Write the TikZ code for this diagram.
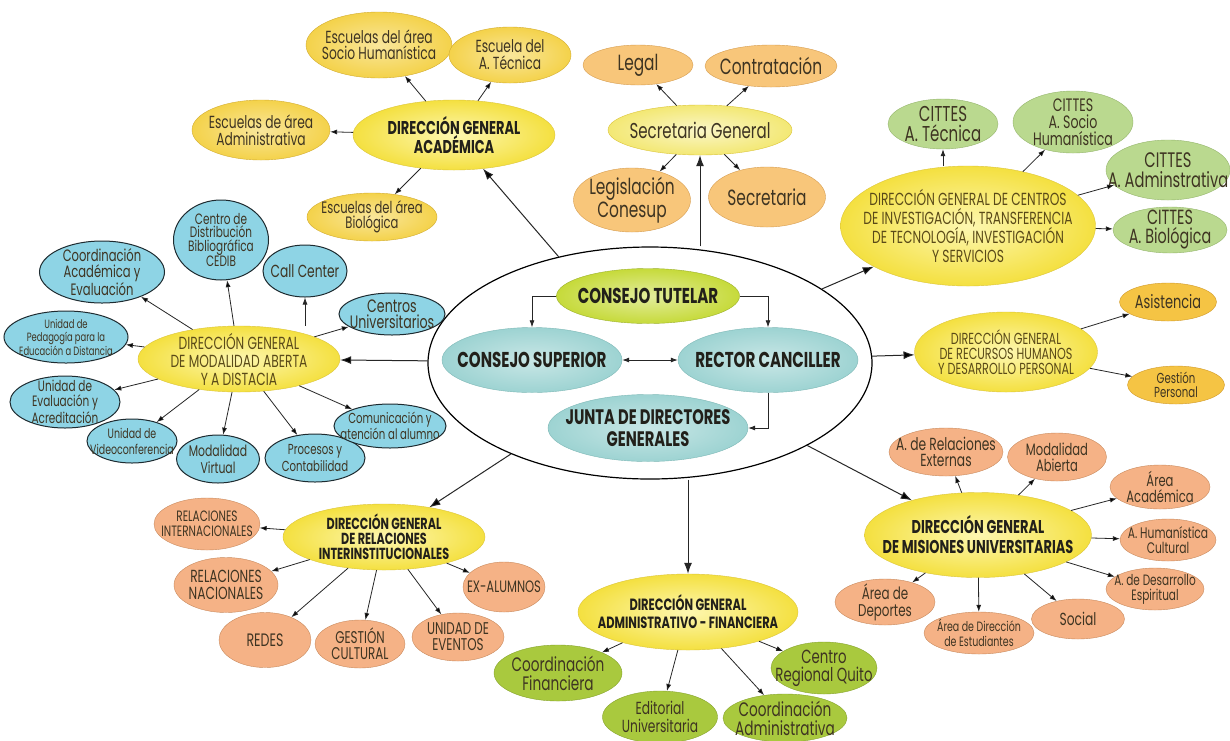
\documentclass[tikz,border=0pt]{standalone}
\usepackage{fontspec}
\setmainfont{Poppins}[FakeStretch=0.7]
\usetikzlibrary{shapes.geometric,arrows.meta}

\newcommand{\fsz}[2]{\fontsize{#1}{#2}\selectfont}

\definecolor{dgyellow}{HTML}{F4E040}
\definecolor{dglight}{HTML}{FDF7B0}
\definecolor{dgline}{HTML}{DCC53A}
\definecolor{sgyellow}{HTML}{F3E874}
\definecolor{gold}{HTML}{F4D24A}
\definecolor{goldline}{HTML}{D2AC30}
\definecolor{apricot}{HTML}{F8C67A}
\definecolor{apricotline}{HTML}{D79E50}
\definecolor{sage}{HTML}{BAD98F}
\definecolor{sageline}{HTML}{94B56B}
\definecolor{amber}{HTML}{F5C444}
\definecolor{amberline}{HTML}{D19A2A}
\definecolor{salmon}{HTML}{F5B286}
\definecolor{salmonline}{HTML}{C98A5D}
\definecolor{lime}{HTML}{A9C93E}
\definecolor{limeline}{HTML}{86A32C}
\definecolor{sky}{HTML}{8ED4E5}
\definecolor{skyline}{HTML}{1E2B30}
\definecolor{tutelar}{HTML}{C6DA3A}
\definecolor{tutelarline}{HTML}{9DB22C}
\definecolor{aqua}{HTML}{9DD3D2}
\definecolor{aqualine}{HTML}{7DB8B6}
\definecolor{darktext}{HTML}{22201A}
\definecolor{kidtext}{HTML}{3E3422}
\definecolor{softtext}{HTML}{5A4A18}

\tikzset{
  blob/.style 2 args={ellipse, minimum width=#1, minimum height=#2, inner sep=0pt},
  dg/.style={draw=dgline, inner color=dglight, outer color=dgyellow},
  sgnode/.style={draw=dgline, inner color=sgyellow!40!white, outer color=sgyellow},
  tutelarnode/.style={draw=tutelarline, inner color=tutelar!50!white, outer color=tutelar},
  aquanode/.style={draw=aqualine, inner color=aqua!55!white, outer color=aqua},
  goldnode/.style={draw=goldline, inner color=gold!55!white, outer color=gold},
  apricotnode/.style={draw=apricotline, fill=apricot},
  sagenode/.style={draw=sageline, fill=sage},
  ambernode/.style={draw=amberline, fill=amber},
  salmonnode/.style={draw=salmonline, fill=salmon},
  limenode/.style={draw=limeline, fill=lime},
  skynode/.style={draw=skyline, line width=1pt, fill=sky},
  kt/.style 2 args={align=center, inner sep=0pt, text=kidtext, font=\fsz{#1}{#2}},
  bt/.style 2 args={align=center, inner sep=0pt, text=darktext, font=\bfseries\fsz{#1}{#2}},
  st/.style 2 args={align=center, inner sep=0pt, text=softtext, font=\fsz{#1}{#2}},
  arr/.style={->, >={Latex[length=7pt,width=5pt]}, line width=0.8pt, draw=black!85},
  bigarr/.style={->, >={Latex[length=11pt,width=8pt]}, line width=1pt, draw=black!85},
}

\begin{document}
\begin{tikzpicture}[x=1pt, y=-1pt]

	\path[use as bounding box, fill=white] (0, 0) rectangle (1230, 740);

	\node[draw=black, line width=1.2pt, fill=white, blob={444}{232}] (big) at (650, 363) {};
	\node[tutelarnode, blob={183}{55}, label={[bt={21.5}{21}]center:CONSEJO TUTELAR}] (ct) at (648, 296) {};
	\node[aquanode, blob={180}{65}, label={[bt={21.5}{21}]center:CONSEJO SUPERIOR}] (cs) at (532, 360) {};
	\node[aquanode, blob={180}{65}, label={[bt={21.5}{21}]center:RECTOR CANCILLER}] (rc) at (768, 360) {};
	\node[aquanode, blob={200}{67}, label={[bt={21}{22}]center:JUNTA DE DIRECTORES\\GENERALES}] (junta) at (648, 428) {};

	\node[dg, blob={202}{70}, label={[bt={18.5}{17}]center:DIRECCIÓN GENERAL\\ACADÉMICA}] (dga) at (454, 135) {};
	\node[sgnode, blob={184}{50}, label={[kt={21.5}{20}]center:Secretaria General}] (sg) at (700, 130) {};
	\node[dg, blob={255}{120}, label={[st={17.5}{19}]center:DIRECCIÓN GENERAL DE CENTROS\\DE INVESTIGACIÓN, TRANSFERENCIA\\DE TECNOLOGÍA, INVESTIGACIÓN\\Y SERVICIOS}] (cit) at (968, 226) {};
	\node[dg, blob={183}{80}, label={[st={16}{15}]center:DIRECCIÓN GENERAL\\DE RECURSOS HUMANOS\\Y DESARROLLO PERSONAL}] (rrhh) at (1006, 352) {};
	\node[dg, blob={227}{85}, label={[bt={18.5}{20}]center:DIRECCIÓN GENERAL\\DE MISIONES UNIVERSITARIAS}] (mis) at (978, 535) {};
	\node[dg, blob={220}{76}, label={[bt={16.3}{18}]center:DIRECCIÓN GENERAL\\ADMINISTRATIVO - FINANCIERA}] (fin) at (688, 612) {};
	\node[dg, blob={202}{66}, label={[bt={16}{15}]center:DIRECCIÓN GENERAL\\DE RELACIONES\\INTERINSTITUCIONALES}] (rel) at (384, 537) {};
	\node[dg, blob={202}{66}, label={[st={17.5}{18}]center:DIRECCIÓN GENERAL\\DE MODALIDAD ABERTA\\Y A DISTACIA}] (mod) at (239, 359) {};

	\node[goldnode, blob={146}{66}, label={[kt={17.5}{16}]center:Escuelas del área\\Socio Humanística}] (soc) at (379, 45) {};
	\node[goldnode, blob={122}{56}, label={[kt={17.5}{17}]center:Escuela del\\A. Técnica}] (tec) at (510, 55) {};
	\node[goldnode, blob={138}{60}, label={[kt={17.5}{17}]center:Escuelas de área\\Administrativa}] (adm) at (261, 130) {};
	\node[goldnode, blob={130}{48}, label={[kt={16.5}{15}]center:Escuelas del área\\Biológica}] (bio) at (372, 217) {};

	\node[apricotnode, blob={110}{40}, label={[kt={22}{21}]center:Legal}] (legal) at (638, 65) {};
	\node[apricotnode, blob={132}{42}, label={[kt={22}{21}]center:Contratación}] (contr) at (771, 66) {};
	\node[apricotnode, blob={117}{64}, label={[kt={22}{21}]center:Legislación\\Conesup}] (legis) at (632, 200) {};
	\node[apricotnode, blob={117}{60}, label={[kt={22}{21}]center:Secretaria}] (secr) at (767, 197) {};

	\node[sagenode, blob={110}{50}, label={[kt={21.5}{20}]center:CITTES\\A. Técnica}] (cit1) at (943, 124) {};
	\node[sagenode, blob={120}{62}, label={[kt={18}{17}]center:CITTES\\A. Socio\\Humanística}] (cit2) at (1073, 122) {};
	\node[sagenode, blob={124}{60}, label={[kt={21}{20}]center:CITTES\\A. Adminstrativa}] (cit3) at (1168, 170) {};
	\node[sagenode, blob={114}{46}, label={[kt={20.5}{19}]center:CITTES\\A. Biológica}] (cit4) at (1170, 230) {};

	\node[ambernode, blob={97}{38}, label={[kt={18.5}{18}]center:Asistencia}] (asis) at (1168, 302) {};
	\node[ambernode, blob={97}{38}, label={[kt={14.5}{14}]center:Gestión\\Personal}] (gest) at (1176, 385) {};

	\node[salmonnode, blob={114}{48}, label={[kt={17.5}{16}]center:A. de Relaciones\\Externas}] (ext) at (946, 452) {};
	\node[salmonnode, blob={99}{48}, label={[kt={16.5}{16}]center:Modalidad\\Abierta}] (mab) at (1057, 457) {};
	\node[salmonnode, blob={100}{44}, label={[kt={16.5}{16}]center:Área\\Académica}] (aca) at (1160, 487) {};
	\node[salmonnode, blob={96}{42}, label={[kt={15.3}{15}]center:A. Humanística\\Cultural}] (hum) at (1168, 540) {};
	\node[salmonnode, blob={98}{42}, label={[kt={15}{15}]center:A. de Desarrollo\\Espiritual}] (esp) at (1155, 589) {};
	\node[salmonnode, blob={100}{46}, label={[kt={17}{17}]center:Área de\\Deportes}] (dep) at (885, 602) {};
	\node[salmonnode, blob={110}{42}, label={[kt={13.5}{14.5}]center:Área de Dirección\\de Estudiantes}] (est) at (979, 633) {};
	\node[salmonnode, blob={93}{40}, label={[kt={17.5}{17}]center:Social}] (soc2) at (1078, 619) {};

	\node[limenode, blob={128}{56}, label={[kt={19.5}{19}]center:Coordinación\\Financiera}] (cfin) at (558, 673) {};
	\node[limenode, blob={115}{52}, label={[kt={17.5}{18}]center:Editorial\\Universitaria}] (edit) at (660, 717) {};
	\node[limenode, blob={124}{48}, label={[kt={19.5}{19}]center:Coordinación\\Administrativa}] (cadm) at (785, 718) {};
	\node[limenode, blob={106}{52}, label={[kt={19}{18}]center:Centro\\Regional Quito}] (crq) at (824, 668) {};

	\node[salmonnode, blob={106}{52}, label={[kt={15}{15}]center:RELACIONES\\INTERNACIONALES}] (rint) at (207, 524) {};
	\node[salmonnode, blob={104}{55}, label={[kt={17.5}{17}]center:RELACIONES\\NACIONALES}] (rnac) at (226, 585) {};
	\node[salmonnode, blob={92}{55}, label={[kt={18}{16}]center:REDES}] (redes) at (265, 640) {};
	\node[salmonnode, blob={90}{48}, label={[kt={17}{16}]center:GESTIÓN\\CULTURAL}] (gcult) at (360, 644) {};
	\node[salmonnode, blob={92}{48}, label={[kt={17}{16}]center:UNIDAD DE\\EVENTOS}] (uev) at (458, 637) {};
	\node[salmonnode, blob={82}{50}, label={[kt={16.5}{15}]center:EX-ALUMNOS}] (exal) at (504, 587) {};

	\node[skynode, blob={125}{62}, label={[kt={16.5}{16.5}]center:Coordinación\\Académica y\\Evaluación}] (coord) at (102, 272) {};
	\node[skynode, blob={95}{80}, label={[kt={15}{13.5}]center:Centro de\\Distribución\\Bibliográfica\\CEDIB}] (cedib) at (221, 240) {};
	\node[skynode, blob={84}{52}, label={[kt={17.5}{17.5}]center:Call Center}] (call) at (305, 271) {};
	\node[skynode, blob={106}{42}, label={[kt={18}{16}]center:Centros\\Universitarios}] (cuni) at (392, 314) {};
	\node[skynode, blob={124}{52}, label={[kt={12}{13.5}]center:Unidad de\\Pedagogía para la\\Educación a Distancia}] (ped) at (66, 337) {};
	\node[skynode, blob={110}{52}, label={[kt={15}{15}]center:Unidad de\\Evaluación y\\Acreditación}] (eva) at (65, 402) {};
	\node[skynode, blob={90}{44}, label={[kt={13.5}{16}]center:Unidad de\\Videoconferencia}] (vid) at (132, 441) {};
	\node[skynode, blob={83}{48}, label={[kt={15.5}{17}]center:Modalidad\\Virtual}] (virt) at (218, 459) {};
	\node[skynode, blob={100}{48}, label={[kt={14.5}{17}]center:Procesos y\\Contabilidad}] (proc) at (315, 458) {};
	\node[skynode, blob={112}{44}, label={[kt={14.5}{16}]center:Comunicación y\\atención al alumno}] (com) at (390, 426) {};

	\draw[arr] (ct.west) -| (cs.north);
	\draw[arr] (ct.east) -| (rc.north);
	\draw[arr, <->] (cs) -- (rc);
	\draw[arr] (rc.south) |- (junta.east);

	\path[bigarr] (big) edge (dga);
	\draw[bigarr] (big.north -| sg) -- (sg.south);
	\path[bigarr] (big) edge (cit);
	\path[bigarr] (big) edge (rrhh);
	\path[bigarr] (big) edge (mis);
	\draw[bigarr] (big.south -| fin) -- (fin.north);
	\path[bigarr] (big) edge (rel);
	\path[bigarr] (big) edge (mod);

	\path[arr] (dga) edge (soc);
	\path[arr] (dga) edge (tec);
	\path[arr] (dga) edge (adm);
	\path[arr] (dga) edge (bio);

	\path[arr] (sg) edge (legal);
	\path[arr] (sg) edge (contr);
	\path[arr] (sg) edge (legis);
	\path[arr] (sg) edge (secr);

	\draw[arr] (cit.north -| cit1) -- (cit1.south);
	\path[arr] (cit) edge (cit2);
	\path[arr] (cit) edge (cit3);
	\path[arr] (cit) edge (cit4);

	\path[arr] (rrhh) edge (asis);
	\path[arr] (rrhh) edge (gest);

	\path[arr] (mis) edge (ext);
	\path[arr] (mis) edge (mab);
	\path[arr] (mis) edge (aca);
	\path[arr] (mis) edge (hum);
	\path[arr] (mis) edge (esp);
	\path[arr] (mis) edge (dep);
	\path[arr] (mis) edge (est);
	\path[arr] (mis) edge (soc2);

	\path[arr] (fin) edge (cfin);
	\path[arr] (fin) edge (edit);
	\path[arr] (fin) edge (cadm);
	\path[arr] (fin) edge (crq);

	\path[arr] (rel) edge (rint);
	\path[arr] (rel) edge (rnac);
	\path[arr] (rel) edge (redes);
	\path[arr] (rel) edge (gcult);
	\path[arr] (rel) edge (uev);
	\path[arr] (rel) edge (exal);

	\path[arr] (mod) edge (coord);
	\path[arr] (mod) edge (cedib);
	\draw[arr] (mod.north -| call) -- (call.south);
	\path[arr] (mod) edge (cuni);
	\path[arr] (mod) edge (ped);
	\path[arr] (mod) edge (eva);
	\path[arr] (mod) edge (vid);
	\path[arr] (mod) edge (virt);
	\path[arr] (mod) edge (proc);
	\path[arr] (mod) edge (com);

\end{tikzpicture}
\end{document}
